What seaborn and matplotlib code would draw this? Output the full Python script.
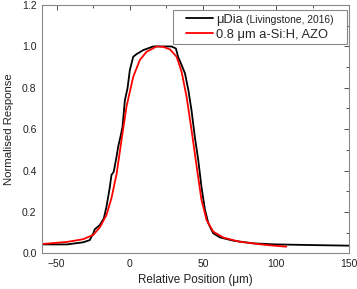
import numpy as np
import pandas as pd
import matplotlib
matplotlib.use("Agg")
import matplotlib.pyplot as plt
import seaborn as sns
from matplotlib.ticker import MultipleLocator
from matplotlib.offsetbox import TextArea, DrawingArea

# Black series: uDia (Livingstone, 2016)
dia_x = [-60.3, -43, -32, -27.4, -25, -24, -20.5, -17.8, -16, -14.4, -13.7, -12.6, -11, -9.1, -8, -6.4, -5,
         -3.4, -1.6, 0, 2.3, 4.6, 9.1, 16, 28.5, 31.5, 33, 35.4, 37.7, 40, 42.2, 44.5, 46.8, 49, 51.4, 53.7,
         57, 61.6, 70.8, 84.5, 100, 123, 150]
dia_y = [0.043, 0.043, 0.053, 0.064, 0.097, 0.116, 0.137, 0.169, 0.225, 0.29, 0.32, 0.378, 0.395, 0.467, 0.515,
         0.564, 0.612, 0.74, 0.797, 0.886, 0.95, 0.963, 0.982, 1.0, 1.0, 0.99, 0.95, 0.91, 0.87, 0.79, 0.69,
         0.56, 0.45, 0.32, 0.21, 0.145, 0.097, 0.077, 0.061, 0.048, 0.043, 0.04, 0.037]

# Red series: 0.8 um a-Si:H, AZO
azo_x = [-60, -43, -32, -25, -20.5, -16, -12.6, -9, -5.7, -2.3, 2.3, 6.8, 11.4, 18.3, 22.8, 27.4, 32, 35.4,
         38.8, 42.2, 45.7, 49, 52.5, 57, 64, 75, 93.6, 107]
azo_y = [0.045, 0.055, 0.068, 0.089, 0.126, 0.185, 0.266, 0.386, 0.548, 0.709, 0.853, 0.934, 0.974, 1.0, 0.998,
         0.986, 0.95, 0.878, 0.757, 0.596, 0.419, 0.258, 0.161, 0.105, 0.076, 0.056, 0.04, 0.032]

labels = ["\u03bcDia", "0.8 \u03bcm a-Si:H, AZO"]
citation = "(Livingstone, 2016)"

sns.set_style("white")
plt.rcParams['font.family'] = ['Liberation Sans', 'DejaVu Sans']

fig = plt.figure(figsize=(3.57, 2.89), dpi=100)
ax = fig.add_axes([0.118, 0.1235, 0.860, 0.859])

df1 = pd.DataFrame({"x": dia_x, "y": dia_y})
df2 = pd.DataFrame({"x": azo_x, "y": azo_y})
sns.lineplot(data=df1, x="x", y="y", ax=ax, color="black", lw=1.3, sort=False, estimator=None,
             label=labels[0])
sns.lineplot(data=df2, x="x", y="y", ax=ax, color="#ff0000", lw=1.3, sort=False, estimator=None,
             label=labels[1])

ax.set_xlim(-60, 150)
ax.set_ylim(0, 1.2)
ax.xaxis.set_major_locator(MultipleLocator(50))
ax.xaxis.set_minor_locator(MultipleLocator(25))
ax.yaxis.set_major_locator(MultipleLocator(0.2))
ax.yaxis.set_minor_locator(MultipleLocator(0.1))
ax.set_yticks(ax.get_yticks())
ax.set_yticklabels([f"{v:.1f}" for v in ax.get_yticks()])
ax.set_ylim(0, 1.2)
ax.tick_params(which="both", direction="in", top=True, right=True, colors="#333333", labelcolor="#222222",
               labelsize=7.5, pad=4)
ax.tick_params(which="major", length=3.5, width=0.6)
ax.tick_params(which="minor", length=2, width=0.6)
for s in ax.spines.values():
    s.set_color("#888888")
    s.set_linewidth(0.8)
ax.set_xlabel("Relative Position (\u03bcm)", fontsize=8.4, color="#222222", labelpad=4)
ax.set_ylabel("Normalised Response", fontsize=8.2, color="#222222", labelpad=6)

leg = ax.legend(loc="upper right", bbox_to_anchor=(347 / 357, 1 - 10 / 289), bbox_transform=fig.transFigure,
                fontsize=9.3, frameon=True, fancybox=False, edgecolor="#888888",
                handlelength=2.1, handletextpad=0.25, borderpad=0.3, labelspacing=0.2,
                borderaxespad=0, framealpha=1)
leg.get_frame().set_linewidth(0.8)
# append the smaller citation to the first legend row, and widen the side padding
rows = leg._legend_handle_box.get_children()[0].get_children()
cite = TextArea(citation, textprops=dict(fontsize=7.4, color="#222222"))
cite.set_figure(fig)
rows[0].get_children().append(cite)
for i, row in enumerate(rows):
    sp = DrawingArea(4.2, 0)
    sp.set_figure(fig)
    row.get_children().insert(0, sp)
sp2 = DrawingArea(4.2, 0)
sp2.set_figure(fig)
rows[0].get_children().append(sp2)

fig.savefig("out.png", dpi=100)
